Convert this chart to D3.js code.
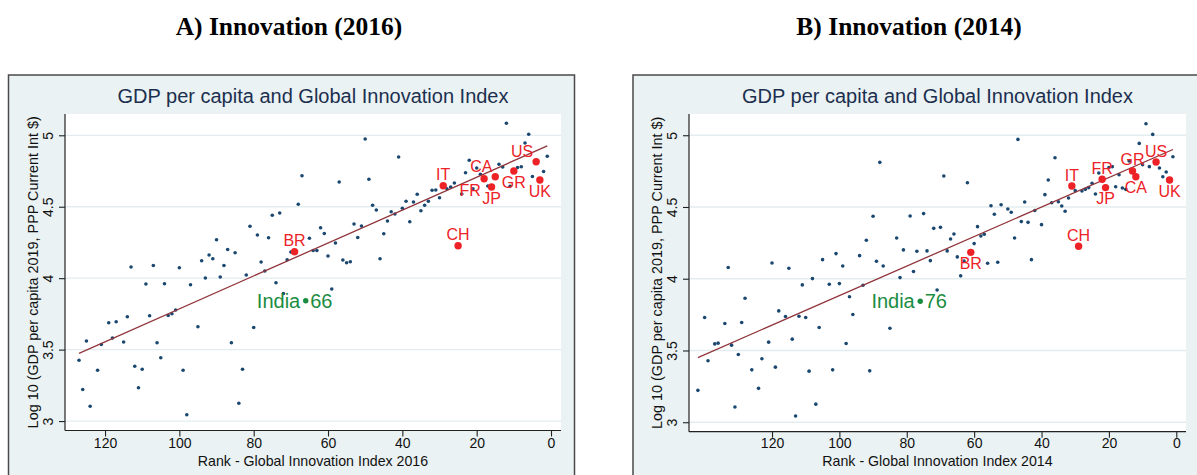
<!DOCTYPE html>
<html>
<head>
<meta charset="utf-8">
<script src="https://cdn.jsdelivr.net/npm/d3@7"></script>
<style>
  body { margin: 0; background: #fff; }
  svg { display: block; }
  text { font-family: "Liberation Sans", Arial, sans-serif; }
</style>
</head>
<body>
<svg id="chart" width="1197" height="475"></svg>
<script>
// ---- GII 2016: rank vs log10 GDP per capita (2019, PPP) ----
const rank2016 = [127,126,125,124,122,121,119,118,117,115,114,113,112,111,110,109,108,107,106,105,
  104,103,102,101,100,99,98,97,95,94,93,92,91,90,89,88,87,86,85,84,83,82,81,80,79,78,77,76,75,74,
  73,72,71,70,68,67,65,64,63,62,61,60,59,58,57,56,55,54,53,52,51,50,49,48,47,46,45,44,43,42,
  41,40,39,38,37,36,35,34,33,32,31,30,28,27,26,24,23,22,21,20,19,17,14,13,12,11,9,8,7,6,5,2,1];
const gdp2016 = [3.426,3.221,3.560,3.104,3.356,3.536,3.688,3.581,3.695,3.553,3.730,4.078,3.384,3.233,3.363,3.959,3.737,4.089,3.548,3.443,
  3.961,3.739,3.751,3.777,4.073,3.356,3.044,3.954,3.660,4.122,4.001,4.162,4.136,4.269,4.008,4.089,4.201,3.548,4.178,3.125,3.363,4.022,4.363,3.655,4.302,4.113,4.050,4.283,4.440,3.968,
  4.456,3.893,4.129,4.183,4.517,4.717,4.279,4.194,4.194,4.353,4.313,4.155,3.924,4.246,4.673,4.127,4.108,4.115,4.379,4.285,4.365,4.974,4.692,4.510,4.477,4.136,4.311,4.400,4.465,4.449,
  4.848,4.489,4.538,4.395,4.533,4.587,4.472,4.510,4.538,4.615,4.617,4.563,4.626,4.638,4.666,4.589,4.738,4.825,4.626,4.771,4.727,4.645,4.797,4.778,5.084,4.643,4.775,4.780,4.946,5.007,4.712,4.747,4.853];

// highlighted economies, 2016
const hlCode2016 = ["BR","IT","CA","FR","JP","GR","US","UK","CH"];
const hlRank2016 = [69,29,15,18,16,10,4,3,25];
const hlGdp2016  = [4.185,4.647,4.710,4.696,4.638,4.750,4.815,4.687,4.227];

// ---- GII 2014 ----
const rank2014 = [142,140,139,137,136,134,133,132,131,130,129,128,126,124,123,121,120,119,118,116,
  115,114,113,112,111,110,109,108,107,106,105,103,102,101,100,99,98,97,96,94,93,92,91,90,89,88,87,85,83,82,
  81,79,78,77,75,74,73,72,71,70,69,68,67,66,65,64,63,62,60,59,58,57,56,55,54,53,52,50,49,48,
  47,46,45,44,43,42,40,39,38,37,36,35,34,33,32,30,28,27,26,25,24,23,20,19,18,17,16,15,14,11,10,9,8,7,5,4,3,1];
const gdp2014 = [3.222,3.730,3.428,3.546,3.551,3.688,4.078,3.537,3.106,3.472,3.695,3.864,3.365,3.236,3.442,3.558,4.110,3.384,3.776,3.737,
  4.073,3.579,3.043,3.739,3.957,3.730,3.356,4.001,3.126,3.660,4.133,3.962,3.365,4.175,3.966,4.089,3.549,3.874,3.751,4.161,3.955,4.268,3.358,4.435,4.122,4.811,4.089,3.655,4.284,4.008,
  4.201,4.437,4.050,4.192,4.454,4.194,4.126,4.351,3.922,4.358,4.716,4.194,4.277,4.312,4.152,4.020,4.124,4.669,4.245,4.363,4.298,4.310,4.108,4.509,4.449,4.115,4.516,4.486,4.463,4.284,
  4.971,4.398,4.535,4.393,4.133,4.476,4.377,4.586,4.688,4.530,4.843,4.537,4.507,4.470,4.563,4.614,4.611,4.623,4.635,4.665,4.590,4.737,4.774,4.781,4.641,4.725,4.632,4.623,4.820,4.943,4.795,5.080,4.781,5.006,4.772,4.711,4.744,4.850];

const hlCode2014 = ["BR","IT","CA","FR","JP","GR","US","UK","CH"];
const hlRank2014 = [61,31,12,22,21,13,6,2,29];
const hlGdp2014  = [4.184,4.646,4.711,4.693,4.635,4.751,4.813,4.688,4.226];

// India, 2016 and 2014
const indiaRank = [66, 76];
const indiaGdp  = [3.842, 3.843];

const xTickValues = [120, 100, 80, 60, 40, 20, 0];
const yTickValues = [3, 3.5, 4, 4.5, 5];

// ---- styling ----
const C = {
  region: "#eaf2f3", frame: "#4a4a4a", title: "#1c2f4f", navy: "#1a476f",
  red: "#ec2227", green: "#1a8c3f", fit: "#90353b", grid: "#e3edef", axis: "#222"
};
// marker-label clock positions
const clock2016 = {BR:12, IT:12, CA:11, FR:7, JP:6, GR:6, US:11, UK:6, CH:12};
const clock2014 = {BR:6, IT:12, CA:6, FR:12, JP:6, GR:12, US:12, UK:6, CH:12};

const svg = d3.select("#chart");

function clockOffset(p) {
  switch (p) {
    case 12: return [0, -11];
    case 6:  return [0, 11];
    case 11: return [-14, -10.5];
    case 7:  return [-14, 11.5];
    default: return [0, 0];
  }
}

function drawPanel(cfg) {
  const g = svg.append("g");

  // header above the graph
  g.append("text").attr("x", cfg.headerX).attr("y", 35)
    .attr("text-anchor", "middle")
    .style("font-family", "'Liberation Serif', 'Times New Roman', serif")
    .style("font-weight", "bold").style("font-size", "25.5px").attr("fill", "#000")
    .text(cfg.header);

  // graph region
  g.append("rect").attr("x", cfg.box.x).attr("y", cfg.box.y)
    .attr("width", cfg.box.w).attr("height", 500)
    .attr("fill", C.region).attr("stroke", C.frame).attr("stroke-width", 1.5);

  const p = cfg.plot;
  g.append("rect").attr("x", p.l).attr("y", p.t).attr("width", p.r - p.l).attr("height", p.b - p.t)
    .attr("fill", "#fff");

  const x = d3.scaleLinear().domain(cfg.xDom).range([p.l, p.r]);
  const y = d3.scaleLinear().domain(cfg.yDom).range([p.b, p.t]);

  // grid
  g.append("g").selectAll("line").data(yTickValues).join("line")
    .attr("x1", p.l).attr("x2", p.r).attr("y1", d => y(d)).attr("y2", d => y(d))
    .attr("stroke", C.grid).attr("stroke-width", 1.3);

  // axes
  const xAxis = g.append("g").attr("transform", `translate(0,${p.b})`)
    .call(d3.axisBottom(x).tickValues(xTickValues).tickSize(6).tickFormat(d3.format("d")));
  const yAxis = g.append("g").attr("transform", `translate(${p.l},0)`)
    .call(d3.axisLeft(y).tickValues(yTickValues).tickSize(6).tickFormat(d => String(d)));
  [xAxis, yAxis].forEach(a => {
    a.select(".domain").attr("stroke", C.axis).attr("stroke-width", 1.2);
    a.selectAll(".tick line").attr("stroke", C.axis).attr("stroke-width", 1.1);
    a.selectAll("text").attr("fill", "#111").style("font-size", "14px")
      .style("font-family", "'Liberation Sans', Arial, sans-serif");
  });
  xAxis.selectAll(".domain").attr("d", `M${p.l},0H${p.r}`);
  // tick labels sit on a common baseline just under the ticks
  xAxis.selectAll(".tick text").attr("dy", null).attr("y", 448 - p.b);
  yAxis.selectAll(".domain").attr("d", `M0,${p.b}V${p.t}`);
  yAxis.selectAll(".tick text")
    .attr("x", 0).attr("dy", null).attr("y", 0)
    .attr("text-anchor", "middle")
    .attr("transform", "translate(-17,0) rotate(-90)")
    .attr("dominant-baseline", "central");

  // axis titles
  g.append("text").attr("x", (p.l + p.r) / 2).attr("y", 466)
    .attr("text-anchor", "middle").style("font-size", "14.2px").attr("fill", "#111")
    .text(cfg.xTitle);
  g.append("text")
    .attr("transform", `translate(${p.l - 32},${(p.t + p.b) / 2}) rotate(-90)`)
    .attr("text-anchor", "middle").attr("dominant-baseline", "central")
    .style("font-size", "14.4px").attr("fill", "#111")
    .text("Log 10 (GDP per capita 2019, PPP Current Int $)");

  // inner title
  g.append("text").attr("x", (p.l + p.r) / 2).attr("y", 103)
    .attr("text-anchor", "middle").style("font-size", "20px").attr("fill", C.title)
    .text("GDP per capita and Global Innovation Index");

  // all points for the linear fit
  const allR = cfg.rank.concat(cfg.hlRank, [cfg.indiaRank]);
  const allV = cfg.gdp.concat(cfg.hlGdp, [cfg.indiaGdp]);
  const mr = d3.mean(allR), mv = d3.mean(allV);
  const slope = d3.sum(allR, (r, i) => (r - mr) * (allV[i] - mv)) / d3.sum(allR, r => (r - mr) ** 2);
  const icpt = mv - slope * mr;
  const [rMin, rMax] = d3.extent(allR);

  // base scatter
  g.append("g").selectAll("circle").data(cfg.rank).join("circle")
    .attr("cx", d => x(d)).attr("cy", (d, i) => y(cfg.gdp[i])).attr("r", 1.8)
    .attr("fill", C.navy);

  // fitted line
  g.append("line")
    .attr("x1", x(rMax)).attr("y1", y(icpt + slope * rMax))
    .attr("x2", x(rMin)).attr("y2", y(icpt + slope * rMin))
    .attr("stroke", C.fit).attr("stroke-width", 1.3);

  // highlighted economies
  const hl = g.append("g");
  cfg.hlCode.forEach((code, i) => {
    const cx = x(cfg.hlRank[i]), cy = y(cfg.hlGdp[i]);
    hl.append("circle").attr("cx", cx).attr("cy", cy).attr("r", 3.7).attr("fill", C.red);
    const [dx, dy] = clockOffset(cfg.clock[code]);
    hl.append("text").attr("x", cx + dx).attr("y", cy + dy)
      .attr("text-anchor", "middle").attr("dominant-baseline", "central")
      .style("font-size", "16px").attr("fill", C.red).text(code);
  });

  // India
  const ix = x(cfg.indiaRank), iy = y(cfg.indiaGdp);
  g.append("circle").attr("cx", ix).attr("cy", iy).attr("r", 2.7).attr("fill", C.green);
  g.append("text").attr("x", ix - 5.5).attr("y", iy).attr("text-anchor", "end")
    .attr("dominant-baseline", "central").style("font-size", "20px").attr("fill", C.green).text("India");
  g.append("text").attr("x", ix + 4.5).attr("y", iy).attr("text-anchor", "start")
    .attr("dominant-baseline", "central").style("font-size", "20px").attr("fill", C.green)
    .text(String(cfg.indiaRank));
}

drawPanel({
  header: "A) Innovation (2016)", headerX: 289,
  box: {x: 8.5, y: 75, w: 566},
  plot: {l: 65, r: 561, t: 114, b: 430.5},
  xDom: [130.77, -2.69], yDom: [2.934, 5.149],
  xTitle: "Rank - Global Innovation Index 2016",
  rank: rank2016, gdp: gdp2016,
  hlCode: hlCode2016, hlRank: hlRank2016, hlGdp: hlGdp2016, clock: clock2016,
  indiaRank: indiaRank[0], indiaGdp: indiaGdp[0]
});

drawPanel({
  header: "B) Innovation (2014)", headerX: 909,
  box: {x: 633, y: 75, w: 580},
  plot: {l: 689, r: 1186, t: 114, b: 431.7},
  xDom: [144.64, -2.88], yDom: [2.934, 5.148],
  xTitle: "Rank - Global Innovation Index 2014",
  rank: rank2014, gdp: gdp2014,
  hlCode: hlCode2014, hlRank: hlRank2014, hlGdp: hlGdp2014, clock: clock2014,
  indiaRank: indiaRank[1], indiaGdp: indiaGdp[1]
});
</script>
</body>
</html>
